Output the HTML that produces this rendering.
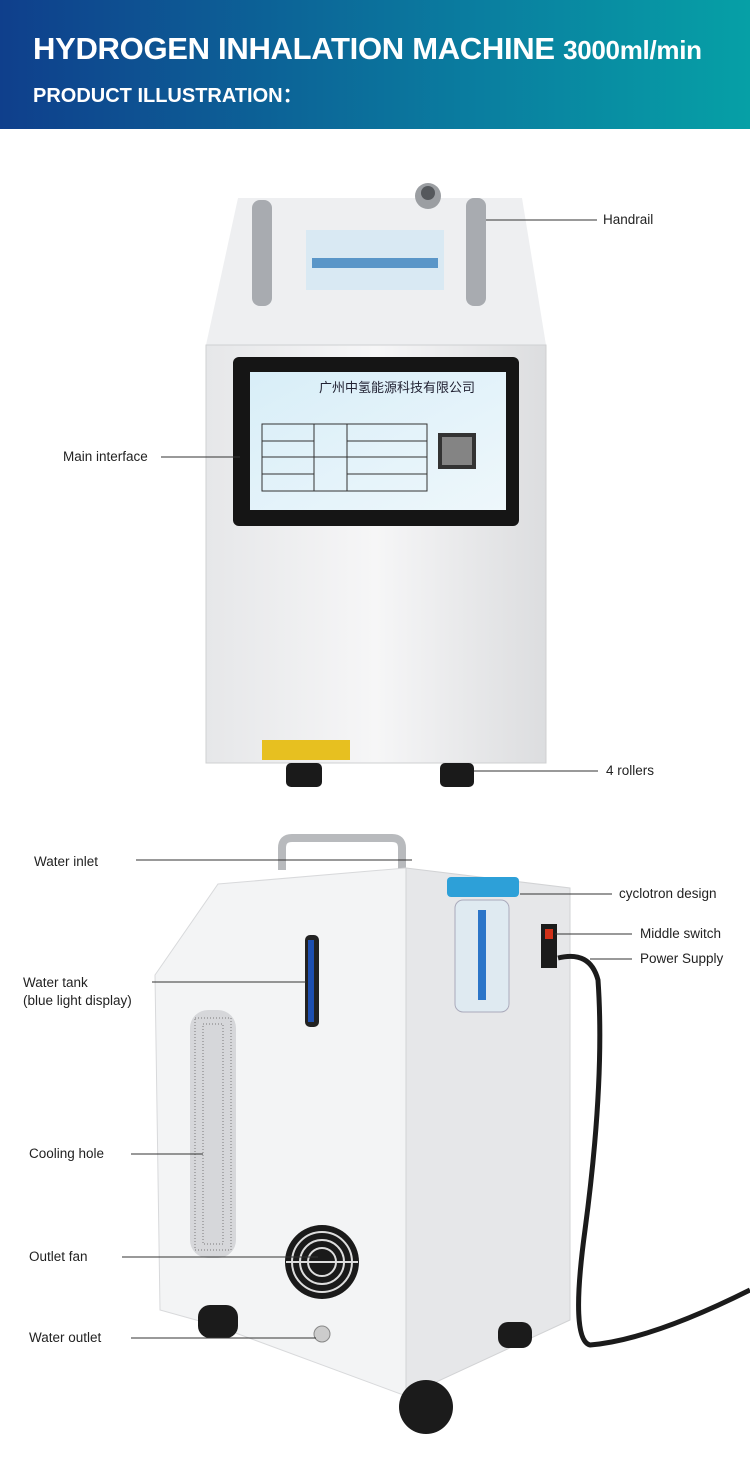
<!DOCTYPE html>
<html><head><meta charset="utf-8"><style>
body{margin:0;width:750px;height:1465px;background:#fff;position:relative;overflow:hidden;font-family:"Liberation Sans","Noto Sans CJK SC",sans-serif}
.hd{position:absolute;left:0;top:0;width:750px;height:129px;background:linear-gradient(90deg,#0f3f8c,#0a7fa0 65%,#06a0a6)}
.t1{position:absolute;left:33px;top:31px;color:#fff;font-weight:bold;font-size:31px;letter-spacing:-0.3px;white-space:nowrap}
.t1 span{font-size:26px}
.t2{position:absolute;left:33px;top:79px;color:#fff;font-weight:bold;font-size:20px;white-space:nowrap}
.l{position:absolute;font-size:13.5px;color:#222;white-space:nowrap}
</style></head><body>
<div class="hd"></div>
<div class="t1">HYDROGEN INHALATION MACHINE <span>3000ml/min</span></div>
<div class="t2">PRODUCT ILLUSTRATION：</div>
<svg width="750" height="1465" style="position:absolute;left:0;top:0">
<defs>
<linearGradient id="bd" x1="0" x2="1"><stop offset="0" stop-color="#e6e7e9"/><stop offset=".5" stop-color="#f6f6f7"/><stop offset="1" stop-color="#dcdddf"/></linearGradient>
<linearGradient id="sc" x1="0" y1="0" x2="1" y2="1"><stop offset="0" stop-color="#d8eef8"/><stop offset="1" stop-color="#eef7fb"/></linearGradient>
</defs>
<polygon points="238,198 522,198 546,345 206,345" fill="#eeeff1"/>
<rect x="206" y="345" width="340" height="418" fill="url(#bd)"/>
<polygon points="206,345 546,345 546,763 206,763" fill="none" stroke="#cfd0d2"/>
<rect x="252" y="200" width="20" height="106" rx="8" fill="#a8abb0"/>
<rect x="466" y="198" width="20" height="108" rx="8" fill="#a8abb0"/>
<rect x="306" y="230" width="138" height="60" fill="#d9e9f3"/>
<rect x="312" y="258" width="126" height="10" fill="#5a96c8"/>
<circle cx="428" cy="196" r="13" fill="#9b9ea2"/><circle cx="428" cy="193" r="7" fill="#55585c"/>
<rect x="233" y="357" width="286" height="169" rx="6" fill="#151515"/>
<rect x="250" y="372" width="256" height="138" fill="url(#sc)"/>
<text x="319" y="392" font-size="13" fill="#223">广州中氢能源科技有限公司</text>
<g stroke="#333" fill="none" stroke-width="1"><rect x="262" y="424" width="165" height="67"/><line x1="314" y1="424" x2="314" y2="491"/><line x1="347" y1="424" x2="347" y2="491"/><line x1="262" y1="441" x2="314" y2="441"/><line x1="262" y1="457" x2="427" y2="457"/><line x1="262" y1="474" x2="314" y2="474"/><line x1="347" y1="441" x2="427" y2="441"/><line x1="347" y1="474" x2="427" y2="474"/></g>
<rect x="438" y="433" width="38" height="36" fill="#333"/><rect x="442" y="437" width="30" height="28" fill="#fff" opacity=".4"/>
<rect x="262" y="740" width="88" height="20" fill="#e7c020"/>
<rect x="286" y="763" width="36" height="24" rx="5" fill="#1a1a1a"/>
<rect x="440" y="763" width="34" height="24" rx="5" fill="#1a1a1a"/>
<path d="M282,870 L282,848 Q282,838 292,838 L392,838 Q402,838 402,848 L402,870" fill="none" stroke="#b8babd" stroke-width="8"/>
<polygon points="218,884 406,868 406,1396 214,1325 160,1310 155,975" fill="#f3f4f5" stroke="#d8d9db"/>
<polygon points="406,868 570,888 570,1320 406,1396" fill="#e6e7e9" stroke="#d2d3d5"/>
<rect x="305" y="935" width="14" height="92" rx="5" fill="#222"/><rect x="308" y="940" width="6" height="82" fill="#1d4fb0"/>
<rect x="190" y="1010" width="46" height="248" rx="18" fill="#d6d7da"/>
<g fill="none" stroke="#999" stroke-dasharray="1 2" stroke-width="1.5"><rect x="195" y="1018" width="36" height="232"/><rect x="203" y="1024" width="20" height="220"/></g>
<circle cx="322" cy="1262" r="37" fill="#1a1a1a"/>
<g stroke="#ddd" stroke-width="2" fill="none"><circle cx="322" cy="1262" r="30"/><circle cx="322" cy="1262" r="22"/><circle cx="322" cy="1262" r="14"/><line x1="286" y1="1262" x2="358" y2="1262"/></g>
<circle cx="322" cy="1334" r="8" fill="#ccc" stroke="#888"/>
<rect x="198" y="1305" width="40" height="33" rx="12" fill="#1b1b1b"/>
<rect x="498" y="1322" width="34" height="26" rx="10" fill="#1b1b1b"/>
<circle cx="426" cy="1407" r="27" fill="#1b1b1b"/>
<rect x="447" y="877" width="72" height="20" rx="4" fill="#2da0d8"/>
<rect x="455" y="900" width="54" height="112" rx="8" fill="#dfeaf1" stroke="#aab"/>
<rect x="478" y="910" width="8" height="90" fill="#2b75c8"/>
<rect x="541" y="924" width="16" height="44" fill="#1b1b1b"/><rect x="545" y="929" width="8" height="10" fill="#d03018"/>
<path d="M558,958 Q590,950 598,980 Q605,1080 585,1230 Q570,1340 590,1345 Q650,1340 750,1290" fill="none" stroke="#1b1b1b" stroke-width="5"/>
<g stroke="#333" stroke-width="1">
<line x1="486" y1="220" x2="597" y2="220"/>
<line x1="161" y1="457" x2="240" y2="457"/>
<line x1="474" y1="771" x2="598" y2="771"/>
<line x1="136" y1="860" x2="412" y2="860"/>
<line x1="520" y1="894" x2="612" y2="894"/>
<line x1="555" y1="934" x2="632" y2="934"/>
<line x1="590" y1="959" x2="632" y2="959"/>
<line x1="152" y1="982" x2="306" y2="982"/>
<line x1="131" y1="1154" x2="203" y2="1154"/>
<line x1="122" y1="1257" x2="318" y2="1257"/>
<line x1="131" y1="1338" x2="316" y2="1338"/>
</g>
</svg>
<div class="l" style="left:603px;top:212px">Handrail</div>
<div class="l" style="left:63px;top:449px">Main interface</div>
<div class="l" style="left:606px;top:763px">4 rollers</div>
<div class="l" style="left:34px;top:854px">Water inlet</div>
<div class="l" style="left:619px;top:886px">cyclotron design</div>
<div class="l" style="left:640px;top:926px">Middle switch</div>
<div class="l" style="left:640px;top:951px">Power Supply</div>
<div class="l" style="left:23px;top:974px;line-height:18px">Water tank<br>(blue light display)</div>
<div class="l" style="left:29px;top:1146px">Cooling hole</div>
<div class="l" style="left:29px;top:1249px">Outlet fan</div>
<div class="l" style="left:29px;top:1330px">Water outlet</div>
</body></html>
